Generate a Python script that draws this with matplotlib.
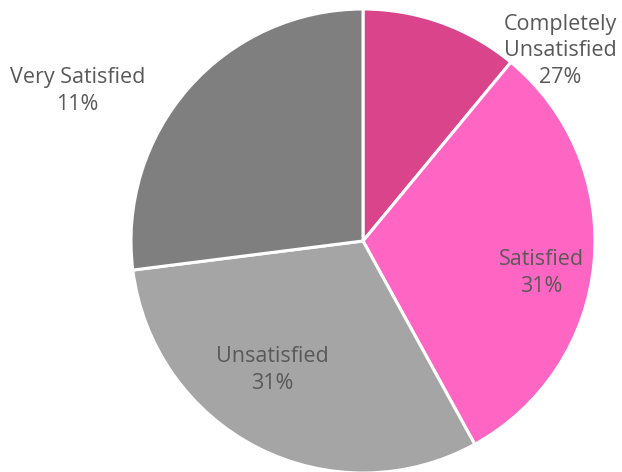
import matplotlib
matplotlib.use("Agg")
import matplotlib.pyplot as plt

# slice order: clockwise from 12 o'clock
shares = [11, 31, 31, 27]
colors = ["#D9448A", "#FF66C4", "#A5A5A5", "#7F7F7F"]
# label text as it appears on the chart (matches the original's placement)
labels = ["Completely\nUnsatisfied\n27%", "Satisfied\n31%", "Unsatisfied\n31%", "Very Satisfied\n11%"]
label_pos = [(0.85, 0.82), (0.77, -0.138), (-0.39, -0.556), (-1.23, 0.647)]

plt.rcParams['font.family'] = ['Open Sans', 'DejaVu Sans']

fig = plt.figure(figsize=(6.22, 4.72), dpi=100)
# pie of radius 1 centred at (363, 241) px, radius ~232 px
r_px = 232.0
cx, cy = 363.0, 241.0
ax = fig.add_axes([(cx - r_px) / 622, 1 - (cy + r_px) / 472, 2 * r_px / 622, 2 * r_px / 472])

ax.pie(shares, colors=colors, startangle=90, counterclock=False,
       wedgeprops=dict(edgecolor="white", linewidth=2.2))
for txt, (x, y) in zip(labels, label_pos):
    ax.text(x, y, txt, ha="center", va="center", color="#595959",
            fontsize=15.5, linespacing=1.35, clip_on=False)

ax.set_xlim(-1, 1)
ax.set_ylim(-1, 1)
ax.set_aspect("equal")
ax.axis("off")

fig.savefig("out.png", dpi=100)
